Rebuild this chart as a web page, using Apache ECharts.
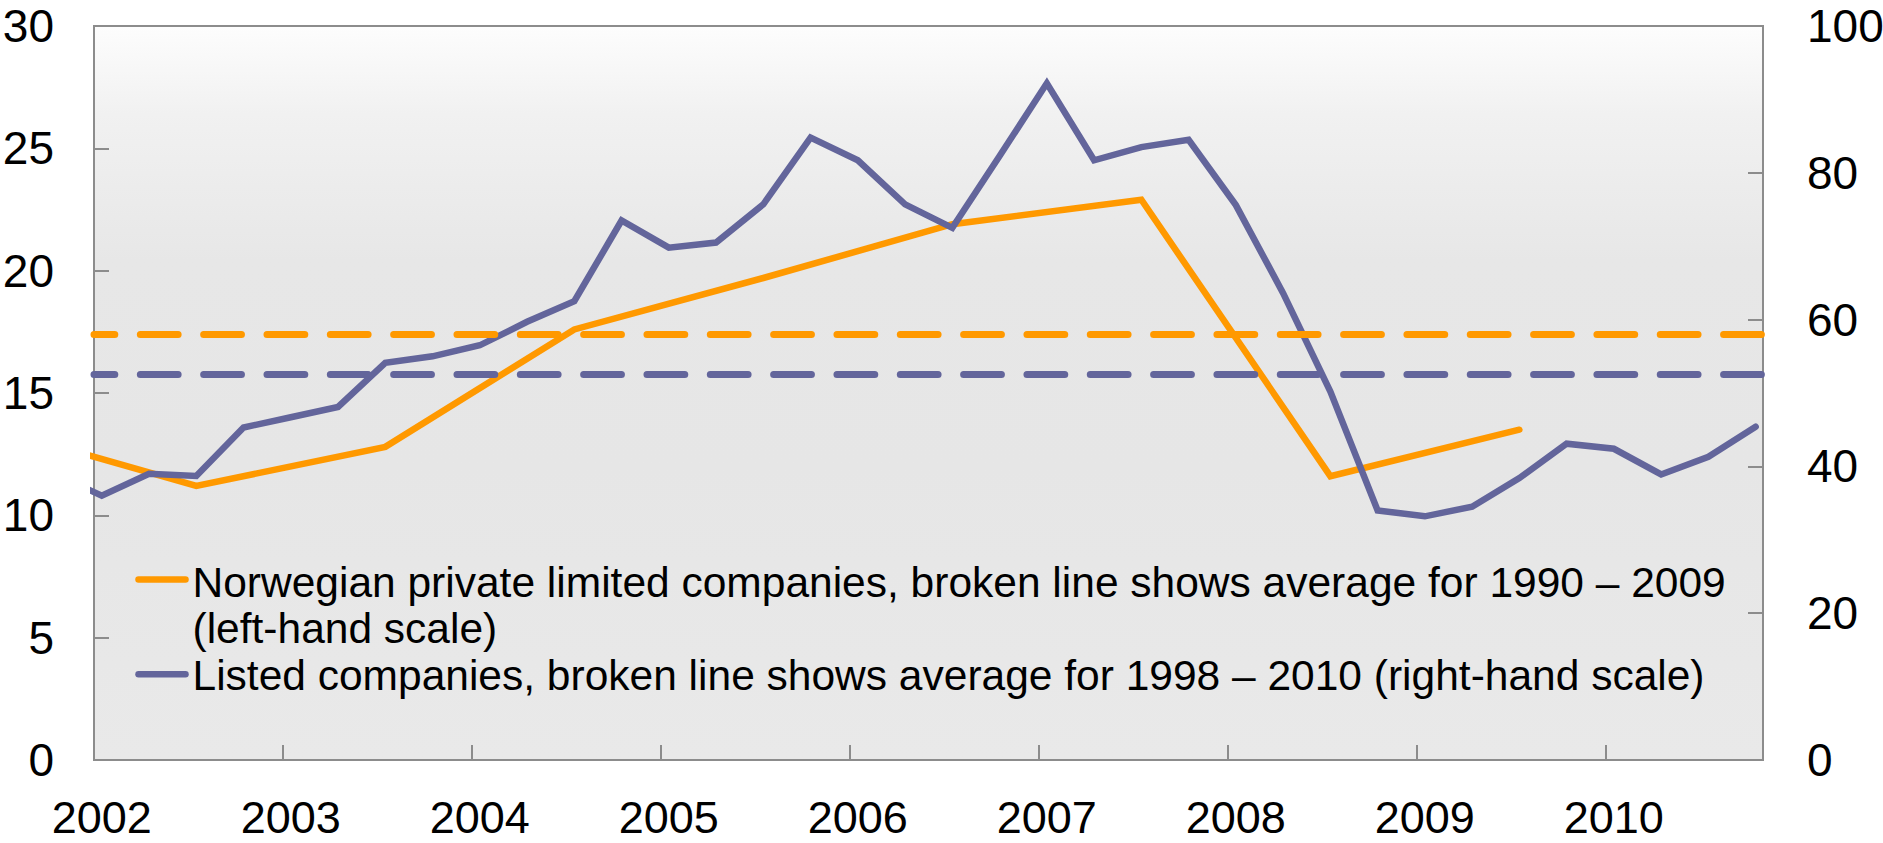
<!DOCTYPE html>
<html>
<head>
<meta charset="utf-8">
<title>Norwegian companies</title>
<script src="https://cdn.jsdelivr.net/npm/echarts@6/dist/echarts.min.js"></script>
<style>
  html, body { margin: 0; padding: 0; background: #fff; }
  #chart { width: 1883px; height: 843px; }
</style>
</head>
<body>
<div id="chart"></div>
<script>
// listed companies, quarterly (right-hand scale); first point lies just left of the axis and is clipped
const quarters = [
  '2001 Q4',
  '2002 Q1', '2002 Q2', '2002 Q3', '2002 Q4',
  '2003 Q1', '2003 Q2', '2003 Q3', '2003 Q4',
  '2004 Q1', '2004 Q2', '2004 Q3', '2004 Q4',
  '2005 Q1', '2005 Q2', '2005 Q3', '2005 Q4',
  '2006 Q1', '2006 Q2', '2006 Q3', '2006 Q4',
  '2007 Q1', '2007 Q2', '2007 Q3', '2007 Q4',
  '2008 Q1', '2008 Q2', '2008 Q3', '2008 Q4',
  '2009 Q1', '2009 Q2', '2009 Q3', '2009 Q4',
  '2010 Q1', '2010 Q2', '2010 Q3', '2010 Q4'
];
const listedValues = [
  39.0,
  36.0, 39.0, 38.7, 45.3,
  46.7, 48.1, 54.1, 55.0,
  56.5, 59.7, 62.5, 73.5,
  69.8, 70.5, 75.7, 84.8,
  81.7, 75.7, 72.5, 82.3,
  92.2, 81.7, 83.5, 84.5,
  75.6, 63.6, 50.2, 34.0,
  33.2, 34.5, 38.4, 43.1,
  42.4, 38.9, 41.3, 45.4
];

// private limited companies, annual (left-hand scale), plotted in Q3
const annualYears = [2001, 2002, 2003, 2004, 2005, 2006, 2007, 2008, 2009];
const privateValues = [13.4, 11.2, 12.8, 17.6, 19.7, 21.9, 22.9, 11.6, 13.5];

// broken lines
const privateAverage = 17.4;  // 1990 – 2009
const listedAverage = 52.5;   // 1998 – 2010

const yearLabels = ['2002', '2003', '2004', '2005', '2006', '2007', '2008', '2009', '2010'];

const legendLines = [
  'Norwegian private limited companies, broken line shows average for 1990 – 2009',
  '(left-hand scale)',
  'Listed companies, broken line shows average for 1998 – 2010 (right-hand scale)'
];

const ORANGE = '#ff9900';
const BLUE = '#63659b';
const GREY = '#8c8c8c';
const FONT = '"Liberation Sans", Arial, sans-serif';

// time position: quarters sit mid first month, annual figures mid July
const quarterPos = s => {
  const parts = s.split(' Q');
  return Number(parts[0]) + (Number(parts[1]) - 1) / 4 + 15 / 365;
};
const midYearPos = y => y + 0.5 + 15 / 365;

const chart = echarts.init(document.getElementById('chart'), null, { renderer: 'svg' });

const dashStyle = color => ({
  color: color,
  width: 7,
  type: [37.8, 25.53],
  dashOffset: 17.4,
  cap: 'round'
});

const tickStyle = { show: true, inside: true, length: 15, lineStyle: { color: GREY, width: 2 } };

const option = {
  animation: false,
  backgroundColor: '#ffffff',
  textStyle: { fontFamily: FONT },
  grid: {
    left: 94,
    right: 120,
    top: 26,
    bottom: 83,
    show: true,
    outerBoundsMode: 'none',
    borderColor: GREY,
    borderWidth: 2,
    backgroundColor: {
      type: 'linear', x: 0, y: 0, x2: 0, y2: 1,
      colorStops: [
        { offset: 0, color: '#fdfdfd' },
        { offset: 0.12, color: '#f1f1f1' },
        { offset: 0.32, color: '#e7e7e7' },
        { offset: 0.6, color: '#e6e6e6' },
        { offset: 1, color: '#e9e9e9' }
      ]
    }
  },
  xAxis: {
    type: 'value',
    min: 2002,
    max: 2010.83,
    interval: 1,
    axisLine: { show: false },
    axisTick: tickStyle,
    splitLine: { show: false },
    axisLabel: {
      margin: 37,
      fontSize: 45,
      lineHeight: 40,
      color: '#000',
      fontFamily: FONT,
      padding: [0, 0, 0, 15.4],
      formatter: v => {
        const r = Math.round(v);
        return Math.abs(v - r) < 1e-6 && yearLabels.includes(String(r)) ? String(r) : '';
      }
    }
  },
  yAxis: [
    {
      type: 'value',
      position: 'left',
      min: 0,
      max: 30,
      interval: 5,
      axisLine: { show: false },
      axisTick: tickStyle,
      splitLine: { show: false },
      axisLabel: { margin: 40, fontSize: 46, color: '#000', fontFamily: FONT }
    },
    {
      type: 'value',
      position: 'right',
      min: 0,
      max: 100,
      interval: 20,
      axisLine: { show: false },
      axisTick: tickStyle,
      splitLine: { show: false },
      axisLabel: { margin: 44, fontSize: 46, color: '#000', fontFamily: FONT }
    }
  ],
  series: [
    {
      name: legendLines[0],
      type: 'line',
      yAxisIndex: 0,
      clip: true,
      showSymbol: false,
      z: 3,
      data: annualYears.map((y, i) => [midYearPos(y), privateValues[i]]),
      lineStyle: { color: ORANGE, width: 6.5, cap: 'round', join: 'miter' },
      markLine: {
        silent: true,
        symbol: 'none',
        label: { show: false },
        lineStyle: dashStyle(ORANGE),
        data: [{ yAxis: privateAverage }]
      }
    },
    {
      name: legendLines[2],
      type: 'line',
      yAxisIndex: 1,
      clip: true,
      showSymbol: false,
      z: 4,
      data: quarters.map((q, i) => [quarterPos(q), listedValues[i]]),
      lineStyle: { color: BLUE, width: 6.5, cap: 'round', join: 'miter' },
      markLine: {
        silent: true,
        symbol: 'none',
        label: { show: false },
        lineStyle: dashStyle(BLUE),
        data: [{ yAxis: listedAverage }]
      }
    }
  ],
  // legend drawn by hand: the first entry wraps onto a second line
  graphic: [
    {
      type: 'line', z: 10,
      shape: { x1: 138.5, y1: 579.5, x2: 185.5, y2: 579.5 },
      style: { stroke: ORANGE, lineWidth: 6.5, lineCap: 'round' }
    },
    {
      type: 'text', z: 10, x: 192.5, y: 582,
      style: { text: legendLines[0], fontSize: 42.5, fontFamily: FONT, fill: '#000', verticalAlign: 'middle' }
    },
    {
      type: 'text', z: 10, x: 192.5, y: 628.7,
      style: { text: legendLines[1], fontSize: 42.5, fontFamily: FONT, fill: '#000', verticalAlign: 'middle' }
    },
    {
      type: 'line', z: 10,
      shape: { x1: 138.5, y1: 674.3, x2: 185.5, y2: 674.3 },
      style: { stroke: BLUE, lineWidth: 6.5, lineCap: 'round' }
    },
    {
      type: 'text', z: 10, x: 192.5, y: 675.3,
      style: { text: legendLines[2], fontSize: 42.5, fontFamily: FONT, fill: '#000', verticalAlign: 'middle' }
    }
  ]
};

chart.setOption(option);
</script>
</body>
</html>
